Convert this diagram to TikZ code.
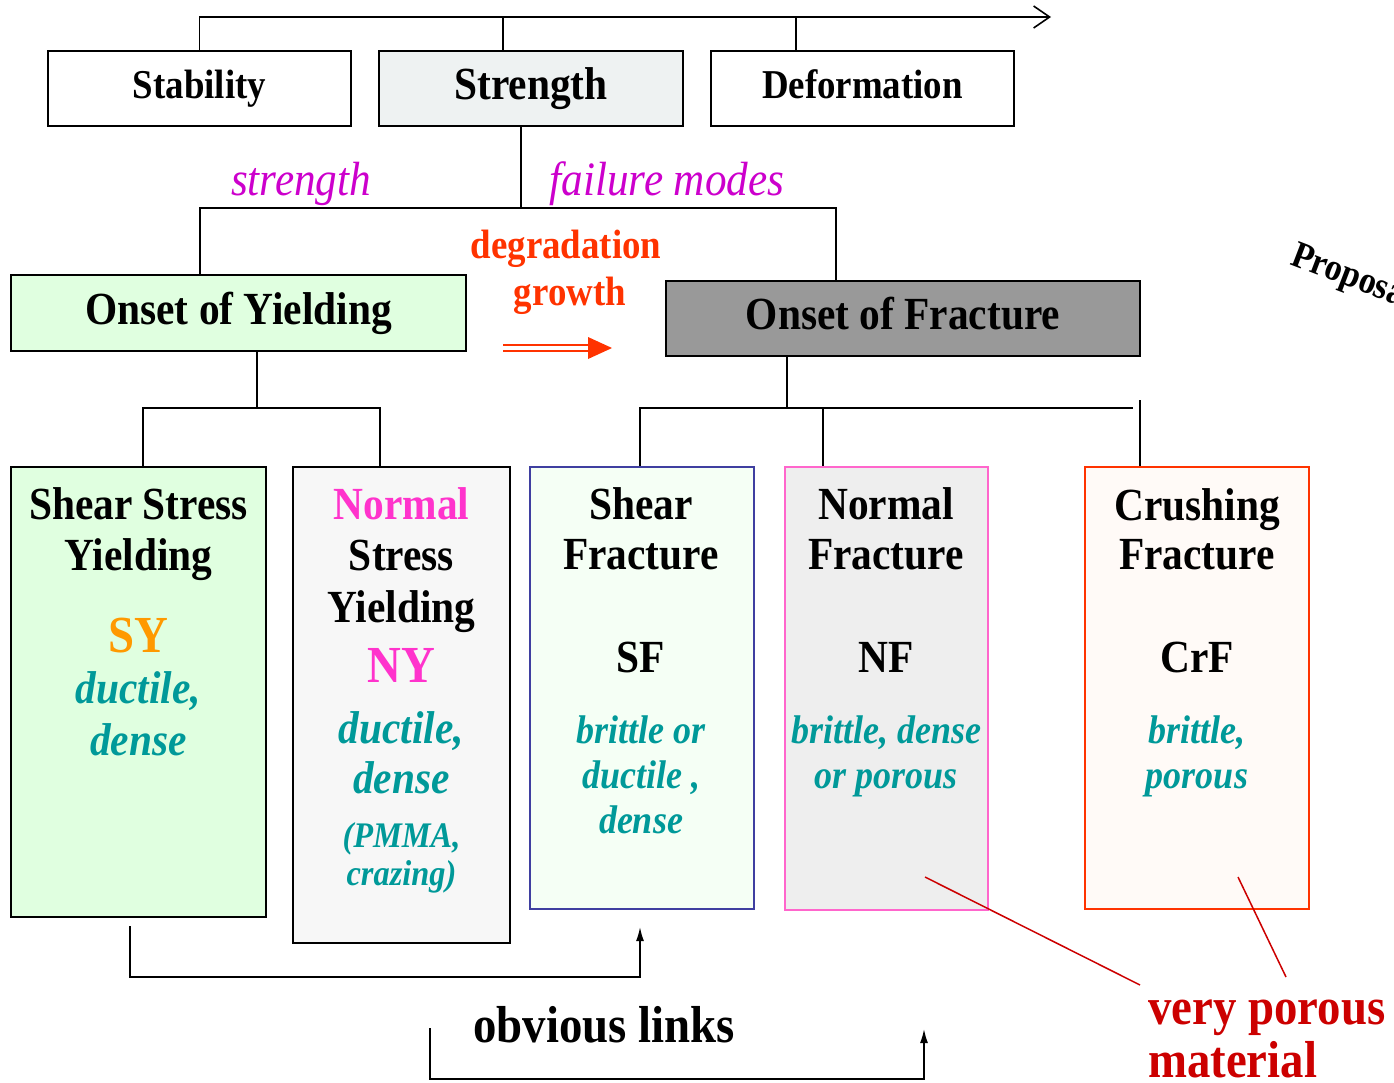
\documentclass[tikz,border=0pt]{standalone}
\usepackage{xcolor}
\usepackage{fontspec}
\setmainfont[FakeStretch=0.9]{Liberation Serif}
\usepackage{tikz}
\usetikzlibrary{arrows.meta}

\definecolor{modetxt}{HTML}{CC00CC}
\definecolor{degtxt}{HTML}{FF3300}
\definecolor{tealtxt}{HTML}{009999}
\definecolor{sytxt}{HTML}{FF9900}
\definecolor{nytxt}{HTML}{FF33CC}
\definecolor{poroustxt}{HTML}{CC0000}
\definecolor{strfill}{HTML}{EEF2F2}
\definecolor{yieldfill}{HTML}{E0FFE0}
\definecolor{fracfill}{HTML}{999999}
\definecolor{nyfill}{HTML}{F7F7F7}
\definecolor{sffill}{HTML}{F5FFF5}
\definecolor{sfline}{HTML}{3F3FA0}
\definecolor{nffill}{HTML}{EEEEEE}
\definecolor{nfline}{HTML}{FF66CC}
\definecolor{crffill}{HTML}{FFFAF7}

\begin{document}
\begin{tikzpicture}[x=1pt,y=-1pt,
  box/.style={draw, line width=2pt, inner sep=0pt},
  conn/.style={line width=1.6pt},
  topfont/.style={text height=28pt, text depth=9pt, font=\bfseries\fontsize{41}{49}\selectfont},
  onset/.style={text height=32pt, text depth=10pt, font=\bfseries\fontsize{46}{55}\selectfont},
  ttl/.style={anchor=base, inner sep=0pt, font=\bfseries\fontsize{46}{55}\selectfont},
  abbr/.style={anchor=base, inner sep=0pt, font=\bfseries\fontsize{52}{62}\selectfont},
  desc/.style={anchor=base, inner sep=0pt, text=tealtxt, font=\bfseries\itshape\fontsize{46}{55}\selectfont},
  descs/.style={anchor=base, inner sep=0pt, text=tealtxt, font=\bfseries\itshape\fontsize{40}{48}\selectfont},
  mode/.style={anchor=base, inner sep=0pt, text=modetxt, font=\itshape\fontsize{48}{57}\selectfont},
  degr/.style={anchor=base, inner sep=0pt, text=degtxt, font=\bfseries\fontsize{41}{49}\selectfont},
  big/.style={anchor=base west, inner sep=0pt, font=\bfseries\fontsize{52}{62}\selectfont}]
\clip (0,0) rectangle (1394,1082);

% top row
\node[box, topfont, minimum width=303pt, minimum height=75pt] (stab) at (199.5,88.5) {Stability};
\node[box, onset, fill=strfill, minimum width=304pt, minimum height=75pt] (stren) at (531,88.5) {Strength};
\node[box, topfont, minimum width=303pt, minimum height=75pt] (deform) at (862.5,88.5) {Deformation};

\coordinate (topend) at (1051,17);
\coordinate (tk1) at (503,17);
\coordinate (tk2) at (796,17);
\draw[conn, -{Straight Barb[length=16pt,width=22pt,line width=1.6pt]}] (stab.north) |- (topend);
\draw[conn] (tk1) -- (tk1 |- stren.north);
\draw[conn] (tk2) -- (tk2 |- deform.north);

% onset boxes
\node[box, onset, fill=yieldfill, minimum width=455pt, minimum height=76pt] (yield) at (238.5,313) {Onset of Yielding};
\node[box, onset, fill=fracfill, minimum width=474pt, minimum height=75pt] (fract) at (903,318.5) {Onset of Fracture};

\coordinate (sbus) at (521,208);
\coordinate (bl) at (200,208);
\coordinate (br) at (836,208);
\draw[conn] (sbus |- stren.south) -- (sbus);
\draw[conn] (bl |- yield.north) -- (bl) -- (br) -- (br |- fract.north);

\node[mode] (strlab) at (301,195) {strength};
\node[mode] (faillab) at (667,195) {failure modes};
\node[degr] (deglab) at (566,258) {degradation};
\node[degr] (growlab) at (570,305) {growth};

% degradation arrow
\draw[degtxt, line width=2pt] (503,345) -- (592,345) (503,351) -- (592,351);
\fill[degtxt] (588,337) -- (612,348) -- (588,359) -- cycle;

% failure mode boxes
\node[box, fill=yieldfill, minimum width=255pt, minimum height=450pt] (sy) at (138.5,692) {};
\node[box, fill=nyfill, minimum width=217pt, minimum height=476pt] (ny) at (401.5,705) {};
\node[box, draw=sfline, line width=1.6pt, fill=sffill, minimum width=224pt, minimum height=442pt] (sf) at (642,688) {};
\node[box, draw=nfline, line width=1.6pt, fill=nffill, minimum width=203pt, minimum height=443pt] (nf) at (886.5,688.5) {};
\node[box, draw=degtxt, line width=1.6pt, fill=crffill, minimum width=224pt, minimum height=442pt] (crf) at (1197,688) {};

\coordinate (ybus) at (257,408);
\coordinate (yl) at (143,408);
\coordinate (yr) at (380,408);
\draw[conn] (ybus |- yield.south) -- (ybus);
\draw[conn] (yl |- sy.north) -- (yl) -- (yr) -- (yr |- ny.north);

\coordinate (fbus) at (787,408);
\coordinate (fl) at (640,408);
\coordinate (fm) at (823,408);
\coordinate (fe) at (1133,408);
\coordinate (fr) at (1140,400);
\draw[conn] (fbus |- fract.south) -- (fbus);
\draw[conn] (fl |- sf.north) -- (fl) -- (fe);
\draw[conn] (fm) -- (fm |- nf.north);
\draw[conn] (fr) -- (fr |- crf.north);

% texts in the boxes
\node[ttl] (sy-a) at (138.5,519) {Shear Stress};
\node[ttl] (sy-b) at (138.5,570) {Yielding};
\node[abbr, text=sytxt] (sy-c) at (138.5,652) {SY};
\node[desc] (sy-d) at (138.5,703) {ductile,};
\node[desc] (sy-e) at (138.5,755) {dense};

\node[ttl, text=nytxt] (ny-a) at (401.5,519) {Normal};
\node[ttl] (ny-b) at (401.5,570) {Stress};
\node[ttl] (ny-c) at (401.5,622) {Yielding};
\node[abbr, text=nytxt] (ny-d) at (401.5,682) {NY};
\node[desc] (ny-e) at (401.5,743) {ductile,};
\node[desc] (ny-f) at (401.5,793) {dense};
\node[descs, font=\bfseries\itshape\fontsize{36}{43}\selectfont] (ny-g) at (401.5,847) {(PMMA,};
\node[descs, font=\bfseries\itshape\fontsize{36}{43}\selectfont] (ny-h) at (401.5,885) {crazing)};

\node[ttl] (sf-a) at (641,519) {Shear};
\node[ttl] (sf-b) at (641,569) {Fracture};
\node[ttl] (sf-c) at (641,672) {SF};
\node[descs] (sf-d) at (641,743) {brittle or};
\node[descs] (sf-e) at (641,788) {ductile ,};
\node[descs] (sf-f) at (641,833) {dense};

\node[ttl] (nf-a) at (886,519) {Normal};
\node[ttl] (nf-b) at (886,569) {Fracture};
\node[ttl] (nf-c) at (886,672) {NF};
\node[descs] (nf-d) at (886,743) {brittle, dense};
\node[descs] (nf-e) at (886,788) {or porous};

\node[ttl] (crf-a) at (1197,520) {Crushing};
\node[ttl] (crf-b) at (1197,569) {Fracture};
\node[ttl] (crf-c) at (1197,672) {CrF};
\node[descs] (crf-d) at (1197,743) {brittle,};
\node[descs] (crf-e) at (1197,788) {porous};

% links
\coordinate (lk1a) at (130,926);
\coordinate (lk1b) at (640,927);
\coordinate (lk2a) at (430,1028);
\coordinate (lk2b) at (924,1029);
\draw[conn, -{Latex[length=14pt,width=8pt]}] (lk1a) -- ++(0,51) -| (lk1b);
\draw[conn, -{Latex[length=14pt,width=8pt]}] (lk2a) -- ++(0,51) -| (lk2b);
\node[big] (links) at (473,1042) {obvious links};

% porous material
\node[big, text=poroustxt] (vp1) at (1148,1024) {very porous};
\node[big, text=poroustxt] (vp2) at (1148,1077) {material};
\coordinate (rp1) at (925,877);
\coordinate (re1) at (1140,985);
\coordinate (rp2) at (1238,877);
\coordinate (re2) at (1286,977);
\draw[poroustxt, line width=1.5pt] (rp1) -- (re1);
\draw[poroustxt, line width=1.5pt] (rp2) -- (re2);

\node[anchor=base west, inner sep=0pt, rotate=-21, font=\bfseries\fontsize{38}{46}\selectfont] (prop) at (1289,264) {Proposal};
\end{tikzpicture}
\end{document}
